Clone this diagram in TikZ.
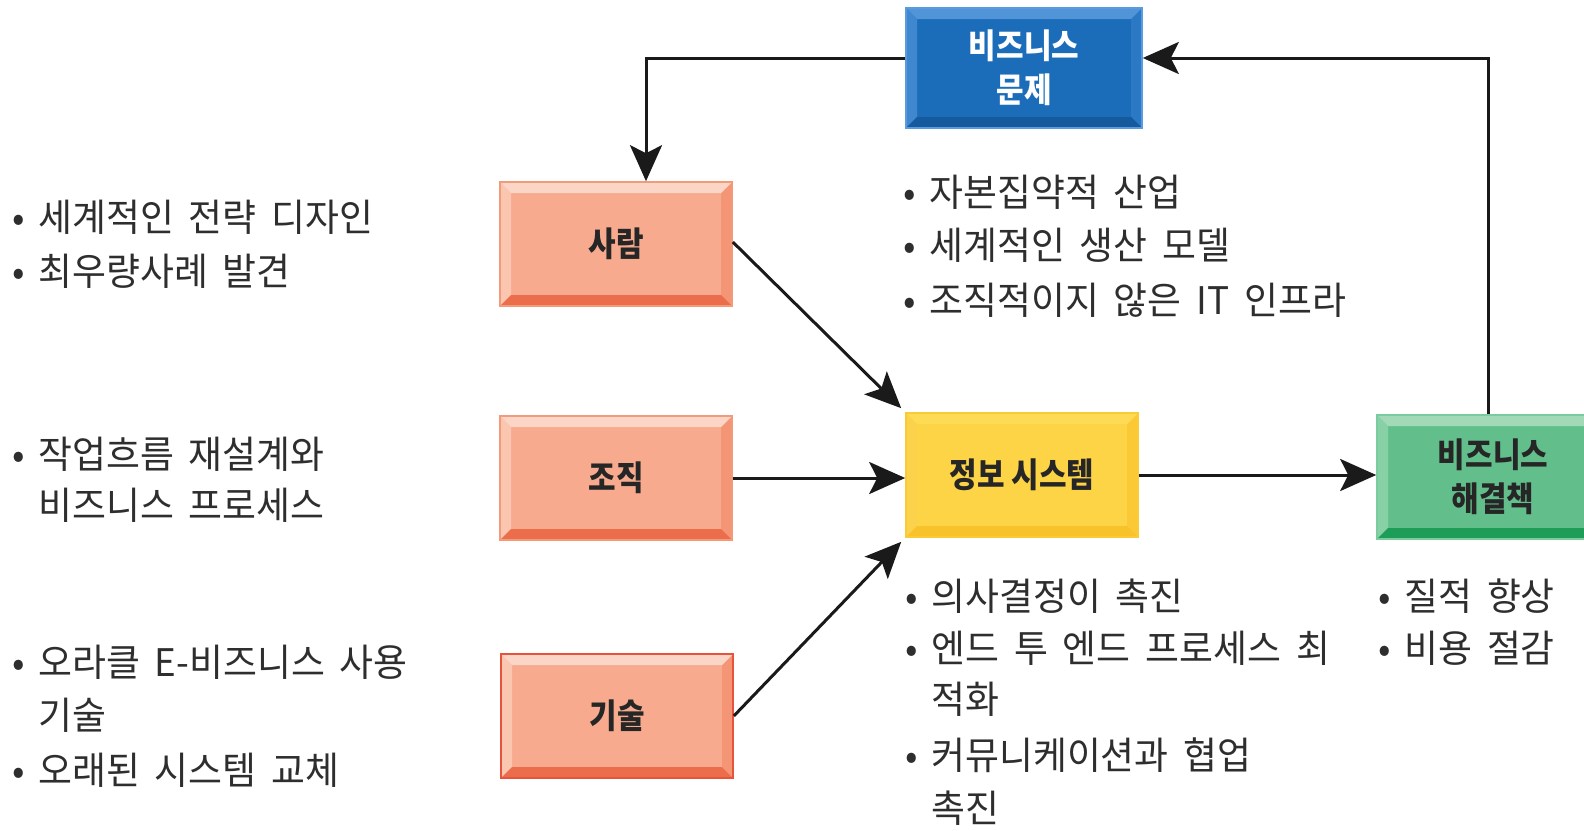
\documentclass[tikz,border=0pt]{standalone}
\usepackage{fontspec}
\newfontfamily\kr{Noto Sans CJK KR}[FakeStretch=0.97, WordSpace=1.8]
\newfontfamily\krb{Noto Sans CJK KR}[FakeStretch=0.88]
\usetikzlibrary{arrows.meta}
\newcommand\bul{\makebox[13pt][l]{•}}
\definecolor{txtc}{HTML}{2E2E2E}
\definecolor{boxtxt}{HTML}{262626}
\definecolor{arrc}{HTML}{1A1A1A}
% blue
\definecolor{bM}{HTML}{1C6DB9}\definecolor{bT}{HTML}{5194D8}\definecolor{bL}{HTML}{3F87CF}
\definecolor{bB}{HTML}{165A9E}\definecolor{bR}{HTML}{2B79C4}\definecolor{bD}{HTML}{5A9BE0}
% salmon
\definecolor{sM}{HTML}{F7AA8D}\definecolor{sT}{HTML}{FBD6C6}\definecolor{sL}{HTML}{FAC6B0}
\definecolor{sB}{HTML}{EC6D4B}\definecolor{sR}{HTML}{F49676}\definecolor{sD}{HTML}{F29A7A}
\definecolor{sD2}{HTML}{E8533C}
% yellow
\definecolor{yM}{HTML}{FDD446}\definecolor{yT}{HTML}{FDDB55}\definecolor{yL}{HTML}{FCD24C}
\definecolor{yB}{HTML}{F8C22A}\definecolor{yR}{HTML}{FBC935}\definecolor{yD}{HTML}{FBCB35}
% green
\definecolor{gM}{HTML}{62BF8C}\definecolor{gT}{HTML}{A2DAB8}\definecolor{gL}{HTML}{88D0A6}
\definecolor{gB}{HTML}{1E9D58}\definecolor{gR}{HTML}{4CB37B}\definecolor{gD}{HTML}{7ACB9D}
\tikzset{
  bev/.style n args={6}{draw=#6, line width=0.8pt, fill=#1,
    path picture={
      \fill[#3] (path picture bounding box.north west) -- ([shift={(5.5pt,-5.5pt)}]path picture bounding box.north west)
        -- ([shift={(5.5pt,5.5pt)}]path picture bounding box.south west) -- (path picture bounding box.south west) -- cycle;
      \fill[#5] (path picture bounding box.north east) -- ([shift={(-5.5pt,-5.5pt)}]path picture bounding box.north east)
        -- ([shift={(-5.5pt,5.5pt)}]path picture bounding box.south east) -- (path picture bounding box.south east) -- cycle;
      \fill[#2] (path picture bounding box.north west) -- (path picture bounding box.north east)
        -- ([shift={(-5.5pt,-5.5pt)}]path picture bounding box.north east) -- ([shift={(5.5pt,-5.5pt)}]path picture bounding box.north west) -- cycle;
      \fill[#4] (path picture bounding box.south west) -- (path picture bounding box.south east)
        -- ([shift={(-5.5pt,5.5pt)}]path picture bounding box.south east) -- ([shift={(5.5pt,5.5pt)}]path picture bounding box.south west) -- cycle;
    }},
  box/.style={minimum width=116pt, minimum height=62pt, inner sep=0pt, align=center,
    font=\krb\bfseries\fontsize{17pt}{22pt}\selectfont, text=boxtxt},
  arr/.style={line width=1.5pt, draw=arrc, -{Stealth[length=18pt,width=16pt,inset=4pt]}},
  txt/.style={anchor=west, inner sep=0pt, font=\kr\fontsize{19pt}{22pt}\selectfont, text=txtc},
}
\begin{document}
\begin{tikzpicture}[x=0.5pt,y=-0.5pt]
\clip (0,0) rectangle (1584,830);
\fill[white] (0,0) rectangle (1584,830);

\node[box, bev={bM}{bT}{bL}{bB}{bR}{bD}, text=white, minimum width=118pt, minimum height=60pt] (prob) at (1024,68) {비즈니스\\문제};
\node[box, bev={sM}{sT}{sL}{sB}{sR}{sD}] (people) at (616,244) {사람};
\node[box, bev={sM}{sT}{sL}{sB}{sR}{sD}] (org) at (616,478) {조직};
\node[box, bev={sM}{sT}{sL}{sB}{sR}{sD2}] (tech) at (617,716) {기술};
\node[box, bev={yM}{yT}{yL}{yB}{yR}{yD}] (info) at (1022,475) {정보 시스템};
\node[box, bev={gM}{gT}{gL}{gB}{gR}{gD}] (sol) at (1493,477) {비즈니스\\해결책};

\draw[arr] ([yshift=5pt]prob.west) -| ([xshift=15pt]people.north);
\draw[arr] ([xshift=-2.5pt]sol.north) |- ([yshift=5pt]prob.east);
\draw[arr] ([yshift=1pt]people.east) -- ([shift={(-2pt,2pt)}]info.north west);
\draw[arr] (org.east) -- (org.east -| info.west);
\draw[arr] (tech.east) -- ([shift={(-2pt,-2pt)}]info.south west);
\draw[arr] (info.east) -- (info.east -| sol.west);

\node[txt] (l1) at (12,217) {\bul 세계적인 전략 디자인};
\node[txt] (l2) at (12,271) {\bul 최우량사례 발견};
\node[txt] (l3) at (12,454) {\bul 작업흐름 재설계와};
\node[txt] (l4) at (38,505) {비즈니스 프로세스};
\node[txt] (l5) at (12,662) {\bul 오라클 E-비즈니스 사용};
\node[txt] (l6) at (38,715) {기술};
\node[txt] (l7) at (12,770) {\bul 오래된 시스템 교체};

\node[txt] (m1) at (903,192) {\bul 자본집약적 산업};
\node[txt] (m2) at (903,245) {\bul 세계적인 생산 모델};
\node[txt] (m3) at (903,300) {\bul 조직적이지 않은 IT 인프라};

\node[txt] (b1) at (905,596) {\bul 의사결정이 촉진};
\node[txt] (b2) at (905,648) {\bul 엔드 투 엔드 프로세스 최};
\node[txt] (b3) at (931,699) {적화};
\node[txt] (b4) at (905,755) {\bul 커뮤니케이션과 협업};
\node[txt] (b5) at (931,808) {촉진};

\node[txt] (r1) at (1378,596) {\bul 질적 향상};
\node[txt] (r2) at (1378,648) {\bul 비용 절감};
\end{tikzpicture}
\end{document}
